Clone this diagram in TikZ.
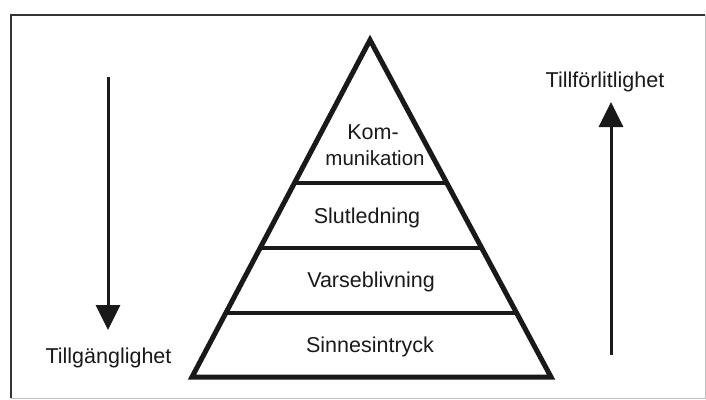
\documentclass[tikz,border=0pt]{standalone}
\usepackage{fontspec}
\setmainfont{Liberation Sans}
\usetikzlibrary{arrows.meta,calc}
\begin{document}
\begin{tikzpicture}[x=1pt,y=-1pt,
  lbl/.style={font=\fontsize{21.5}{26}\selectfont, inner sep=0pt, anchor=base, text=black!90},
  side/.style={line width=5pt, line join=miter, black!90},
  divider/.style={line width=3.5pt, black!90},
  flow/.style={line width=3pt, black!90, -{Triangle[width=24pt,length=25pt]}},
  frameline/.style={line width=2pt, black!80}]
\useasboundingbox (0,0) rectangle (706,399);
% frame
\draw[frameline] (11,398) -- (11,15) -- (705,15);
\draw[line width=1pt, black!25] (705,15) -- (705,398) -- (11,398);
% pyramid
\coordinate (apex) at (370,40);
\coordinate (bl) at (192,377);
\coordinate (br) at (551,377);
\draw[side] (apex) -- (br) -- (bl) -- cycle;
\draw[divider] ($(apex)!0.4243!(bl)$) -- ($(apex)!0.4243!(br)$);
\draw[divider] ($(apex)!0.6172!(bl)$) -- ($(apex)!0.6172!(br)$);
\draw[divider] ($(apex)!0.8101!(bl)$) -- ($(apex)!0.8101!(br)$);
% labels
\node[lbl] (kom) at (373,139) {Kom-};
\node[lbl, font=\fontsize{20.5}{26}\selectfont] (mun) at (375,165) {munikation};
\node[lbl] (slut) at (367,223) {Slutledning};
\node[lbl] (vars) at (371,287) {Varseblivning};
\node[lbl] (sinn) at (370,352) {Sinnesintryck};
\node[lbl] (till) at (108.5,363) {Tillgänglighet};
\node[lbl] (tillf) at (605,87) {Tillförlitlighet};
% arrows
\coordinate (la0) at (108,77);
\coordinate (la1) at (108,330);
\coordinate (ra0) at (611,355);
\coordinate (ra1) at (611,102);
\draw[flow] (la0) -- (la1);
\draw[flow] (ra0) -- (ra1);
\end{tikzpicture}
\end{document}
